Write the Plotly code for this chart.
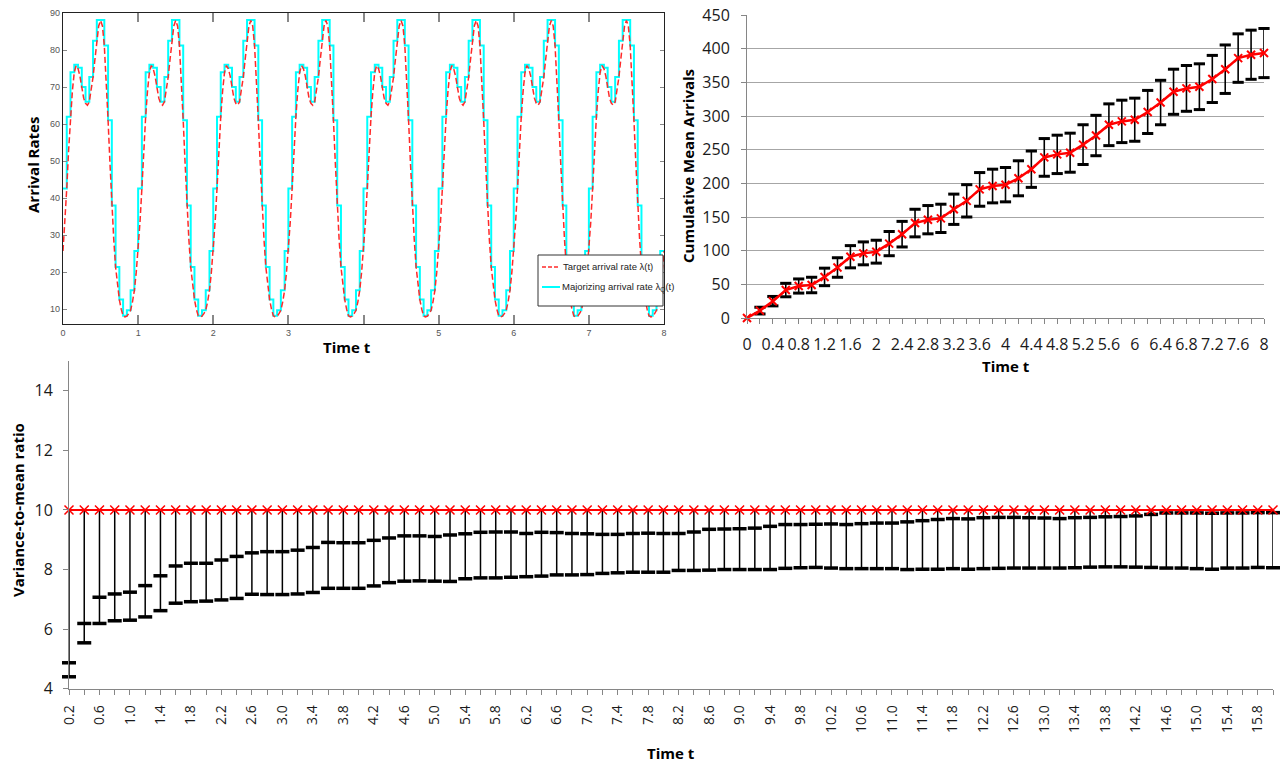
import plotly.graph_objects as go

W, H = 1280, 763


def fx(p):
    return p / W


def fy(p):
    return 1 - p / H


# ---------------- Top-left: arrival rates (one period, repeated each unit of time) ----------------
PERIOD_T = [0.000, 0.025, 0.050, 0.075, 0.100, 0.125, 0.150, 0.175, 0.200, 0.225,
            0.250, 0.275, 0.300, 0.325, 0.350, 0.375, 0.400, 0.425, 0.450, 0.475,
            0.500, 0.525, 0.550, 0.575, 0.600, 0.625, 0.650, 0.675, 0.700, 0.725,
            0.750, 0.775, 0.800, 0.825, 0.850, 0.875, 0.900, 0.925, 0.950, 0.975, 1.000]
TARGET_RATE = [25.7, 33.5, 42.6, 53.0, 62.0, 69.0, 74.0, 75.8, 75.0, 73.0,
               70.0, 67.0, 65.6, 65.1, 66.0, 69.0, 72.7, 77.5, 82.5, 86.5,
               88.0, 86.5, 81.2, 72.0, 61.0, 49.5, 38.0, 29.0, 21.4, 16.5,
               12.6, 10.0, 8.2, 7.9, 8.1, 8.8, 9.7, 12.0, 15.1, 20.0, 25.7]
STEP_T = [0.00, 0.05, 0.10, 0.15, 0.20, 0.25, 0.30, 0.35, 0.40, 0.45,
          0.50, 0.55, 0.60, 0.65, 0.70, 0.75, 0.80, 0.85, 0.90, 0.95]
STEP_RATE = [42.6, 62.0, 74.0, 76.0, 75.2, 70.0, 66.0, 72.7, 82.5, 88.1,
             88.1, 81.2, 61.0, 38.0, 21.4, 12.6, 8.2, 9.7, 15.1, 25.7]
PERIODS = [0, 1, 2, 3, 4, 5, 6, 7]
TL_XTICKS = [0, 1, 2, 3, 5, 6, 7, 8]          # labelled ticks (4 is unlabelled in the source)
TL_XTICKTEXT = ["0", "1", "2", "3", "5", "6", "7", "8"]
TL_XTICKS_UNLABELLED = [4]
TL_YTICKS = [10, 20, 30, 40, 50, 60, 70, 80, 90]

# ---------------- Top-right: cumulative mean arrivals ----------------
T_CUM = [0, 0.2, 0.4, 0.6, 0.8, 1.0, 1.2, 1.4, 1.6, 1.8, 2.0, 2.2, 2.4, 2.6, 2.8, 3.0,
         3.2, 3.4, 3.6, 3.8, 4.0, 4.2, 4.4, 4.6, 4.8, 5.0, 5.2, 5.4, 5.6, 5.8, 6.0,
         6.2, 6.4, 6.6, 6.8, 7.0, 7.2, 7.4, 7.6, 7.8, 8.0]
MEAN_CUM = [0, 11, 25, 41.5, 47.5, 49, 61, 75, 91, 96, 98.5, 110.5, 124.5, 141, 146, 148,
            161.5, 174, 191, 196, 198, 207.5, 221, 238.5, 243, 245.5, 257.5, 271, 287, 292, 294.5,
            306, 320, 336, 341, 343.5, 355, 369.5, 386, 391, 393.5]
ERR_CUM = [0, 5, 7, 10, 10.5, 11.5, 13, 14.5, 16.5, 17, 17, 18, 19, 20.5, 21, 21,
           22.5, 24, 25, 25, 25.5, 26, 27, 28, 28.5, 29, 29.5, 30, 31, 31.5, 32,
           32, 33, 33.5, 34, 34, 35, 36, 36, 36.5, 36.5]
TR_XTICKS = [0, 0.4, 0.8, 1.2, 1.6, 2.0, 2.4, 2.8, 3.2, 3.6, 4.0, 4.4, 4.8, 5.2, 5.6, 6.0,
             6.4, 6.8, 7.2, 7.6, 8.0]
TR_XTICKTEXT = ["0", "0.4", "0.8", "1.2", "1.6", "2", "2.4", "2.8", "3.2", "3.6", "4", "4.4",
                "4.8", "5.2", "5.6", "6", "6.4", "6.8", "7.2", "7.6", "8"]

# ---------------- Bottom: variance-to-mean ratio ----------------
T_VMR = [0.2, 0.4, 0.6, 0.8, 1.0, 1.2, 1.4, 1.6, 1.8, 2.0,
         2.2, 2.4, 2.6, 2.8, 3.0, 3.2, 3.4, 3.6, 3.8, 4.0,
         4.2, 4.4, 4.6, 4.8, 5.0, 5.2, 5.4, 5.6, 5.8, 6.0,
         6.2, 6.4, 6.6, 6.8, 7.0, 7.2, 7.4, 7.6, 7.8, 8.0,
         8.2, 8.4, 8.6, 8.8, 9.0, 9.2, 9.4, 9.6, 9.8, 10.0,
         10.2, 10.4, 10.6, 10.8, 11.0, 11.2, 11.4, 11.6, 11.8, 12.0,
         12.2, 12.4, 12.6, 12.8, 13.0, 13.2, 13.4, 13.6, 13.8, 14.0,
         14.2, 14.4, 14.6, 14.8, 15.0, 15.2, 15.4, 15.6, 15.8, 16.0]
VMR_TARGET = [10.0, 10.0, 10.0, 10.0, 10.0, 10.0, 10.0, 10.0, 10.0, 10.0,
              10.0, 10.0, 10.0, 10.0, 10.0, 10.0, 10.0, 10.0, 10.0, 10.0,
              10.0, 10.0, 10.0, 10.0, 10.0, 10.0, 10.0, 10.0, 10.0, 10.0,
              10.0, 10.0, 10.0, 10.0, 10.0, 10.0, 10.0, 10.0, 10.0, 10.0,
              10.0, 10.0, 10.0, 10.0, 10.0, 10.0, 10.0, 10.0, 10.0, 10.0,
              10.0, 10.0, 10.0, 10.0, 10.0, 10.0, 10.0, 10.0, 10.0, 10.0,
              10.0, 10.0, 10.0, 10.0, 10.0, 10.0, 10.0, 10.0, 10.0, 10.0,
              10.0, 10.0, 10.0, 10.0, 10.0, 10.0, 10.0, 10.0, 10.0, 10.0]
VMR_UPPER = [4.87, 6.19, 7.07, 7.18, 7.24, 7.46, 7.79, 8.12, 8.21, 8.21,
             8.32, 8.44, 8.56, 8.60, 8.60, 8.65, 8.74, 8.91, 8.90, 8.90,
             8.98, 9.06, 9.13, 9.13, 9.11, 9.16, 9.20, 9.25, 9.26, 9.26,
             9.21, 9.25, 9.24, 9.21, 9.20, 9.18, 9.18, 9.21, 9.22, 9.21,
             9.21, 9.26, 9.35, 9.36, 9.37, 9.39, 9.45, 9.51, 9.51, 9.52,
             9.53, 9.51, 9.54, 9.56, 9.56, 9.60, 9.64, 9.68, 9.71, 9.70,
             9.74, 9.75, 9.75, 9.74, 9.73, 9.71, 9.74, 9.75, 9.77, 9.78,
             9.80, 9.85, 9.90, 9.90, 9.90, 9.89, 9.90, 9.90, 9.91, 9.91]
VMR_LOWER = [4.40, 5.54, 6.19, 6.28, 6.30, 6.41, 6.62, 6.87, 6.92, 6.94,
             6.98, 7.03, 7.17, 7.16, 7.16, 7.18, 7.23, 7.37, 7.37, 7.37,
             7.45, 7.56, 7.61, 7.62, 7.61, 7.60, 7.69, 7.72, 7.72, 7.74,
             7.76, 7.78, 7.82, 7.82, 7.83, 7.87, 7.89, 7.91, 7.91, 7.91,
             7.97, 7.97, 7.98, 8.00, 8.00, 8.00, 8.00, 8.04, 8.06, 8.07,
             8.05, 8.03, 8.03, 8.03, 8.03, 8.00, 8.01, 8.01, 8.03, 8.01,
             8.03, 8.04, 8.05, 8.05, 8.05, 8.05, 8.06, 8.08, 8.09, 8.09,
             8.08, 8.07, 8.05, 8.05, 8.03, 8.01, 8.05, 8.05, 8.07, 8.06]
B_XTICKS = T_VMR[::2]
B_XTICKTEXT = ["%.1f" % v for v in B_XTICKS]
B_YTICKS = [4, 6, 8, 10, 12, 14]

# ---------------- build series ----------------
tgt_x, tgt_y, stp_x, stp_y = [], [], [], []
for k in PERIODS:
    tgt_x += [t + k for t in PERIOD_T[:-1]]
    tgt_y += TARGET_RATE[:-1]
    stp_x += [t + k for t in STEP_T]
    stp_y += STEP_RATE
tgt_x.append(PERIOD_T[-1] + PERIODS[-1])
tgt_y.append(TARGET_RATE[-1])
stp_x.append(PERIOD_T[-1] + PERIODS[-1])
stp_y.append(STEP_RATE[-1])

fig = go.Figure()

# top-left
fig.add_trace(go.Scatter(x=stp_x, y=stp_y, mode="lines", line_shape="hv",
                         line=dict(color="#00FFFF", width=2), xaxis="x", yaxis="y",
                         showlegend=False, hoverinfo="skip"))
fig.add_trace(go.Scatter(x=tgt_x, y=tgt_y, mode="lines",
                         line=dict(color="#FF2A2A", width=1.5, dash="6px,3px"), xaxis="x", yaxis="y",
                         showlegend=False, hoverinfo="skip"))

# top-right: error bars, caps, line
fig.add_trace(go.Scatter(x=T_CUM, y=MEAN_CUM, mode="markers",
                         marker=dict(size=1, color="rgba(0,0,0,0)"),
                         error_y=dict(type="data", array=ERR_CUM, symmetric=True,
                                      color="black", thickness=1.6, width=0),
                         xaxis="x2", yaxis="y2", showlegend=False, cliponaxis=False))
cap_x = [t for t, e in zip(T_CUM, ERR_CUM) if e > 0]
cap_hi = [m + e for m, e in zip(MEAN_CUM, ERR_CUM) if e > 0]
cap_lo = [m - e for m, e in zip(MEAN_CUM, ERR_CUM) if e > 0]
fig.add_trace(go.Scatter(x=cap_x + cap_x, y=cap_hi + cap_lo, mode="markers",
                         marker=dict(symbol="line-ew", size=8, line=dict(color="black", width=3)),
                         xaxis="x2", yaxis="y2", showlegend=False, cliponaxis=False))
fig.add_trace(go.Scatter(x=T_CUM, y=MEAN_CUM, mode="lines+markers",
                         line=dict(color="#FF0000", width=2.5),
                         marker=dict(symbol="x-thin", size=8,
                                     line=dict(color="#FF0000", width=2)),
                         xaxis="x2", yaxis="y2", showlegend=False, cliponaxis=False))

# bottom
fig.add_trace(go.Scatter(x=T_VMR, y=VMR_TARGET, mode="markers",
                         marker=dict(size=1, color="rgba(0,0,0,0)"),
                         error_y=dict(type="data", symmetric=False,
                                      array=[0 for _ in VMR_TARGET],
                                      arrayminus=[m - lo for m, lo in zip(VMR_TARGET, VMR_LOWER)],
                                      color="black", thickness=1.5, width=0),
                         xaxis="x3", yaxis="y3", showlegend=False, cliponaxis=False))
fig.add_trace(go.Scatter(x=T_VMR + T_VMR, y=VMR_UPPER + VMR_LOWER, mode="markers",
                         marker=dict(symbol="line-ew", size=10, line=dict(color="black", width=3.5)),
                         xaxis="x3", yaxis="y3", showlegend=False, cliponaxis=False))
fig.add_trace(go.Scatter(x=T_VMR, y=VMR_TARGET, mode="lines+markers",
                         line=dict(color="#FF0000", width=2),
                         marker=dict(symbol="x-thin", size=9, line=dict(color="#FF0000", width=1.5)),
                         xaxis="x3", yaxis="y3", showlegend=False, cliponaxis=False))

TICKFONT_XL = dict(family="Open Sans, Liberation Sans, sans-serif", size=16, color="#1a1a1a")
TITLEFONT = dict(family="Open Sans, Liberation Sans, sans-serif", size=15, color="black")
MATFONT = dict(family="Liberation Sans Narrow, Liberation Sans, sans-serif", size=9, color="#555555")

fig.update_layout(
    width=W, height=H, margin=dict(l=0, r=0, t=0, b=0),
    paper_bgcolor="white", plot_bgcolor="white", template="none",
    showlegend=False,
    xaxis=dict(domain=[fx(63), fx(664)], anchor="y", range=[0, 8],
               tickmode="array", tickvals=TL_XTICKS, ticktext=TL_XTICKTEXT,
               ticks="inside", ticklen=9, tickwidth=1.5, tickcolor="#888888",
               minor=dict(tickmode="array", tickvals=TL_XTICKS_UNLABELLED, ticks="inside",
                          ticklen=9, tickwidth=1.5, tickcolor="#888888", showgrid=False),
               showline=True, linecolor="#222222", linewidth=1.2, mirror="ticks",
               showgrid=False, zeroline=False, tickfont=MATFONT),
    yaxis=dict(domain=[fy(324), fy(13)], anchor="x", range=[6, 90],
               tickmode="array", tickvals=TL_YTICKS,
               ticks="inside", ticklen=4, tickwidth=1.2, tickcolor="#888888",
               showline=True, linecolor="#222222", linewidth=1.2, mirror="ticks",
               showgrid=False, zeroline=False, tickfont=MATFONT),
    xaxis2=dict(domain=[fx(747), fx(1264)], anchor="y2", range=[0, 8],
                tickmode="array", tickvals=TR_XTICKS, ticktext=TR_XTICKTEXT,
                ticks="outside", ticklen=5, tickcolor="#868686", ticklabelstandoff=7,
                minor=dict(tickmode="array", tickvals=T_CUM, ticks="outside", ticklen=5,
                           tickcolor="#868686", showgrid=False),
                showline=True, linecolor="#868686", linewidth=1,
                showgrid=False, zeroline=False, tickfont=TICKFONT_XL),
    yaxis2=dict(domain=[fy(318), fy(15)], anchor="x2", range=[0, 450],
                tickmode="linear", tick0=0, dtick=50,
                ticks="outside", ticklen=5, tickcolor="#868686", ticklabelstandoff=8,
                showline=True, linecolor="#868686", linewidth=1,
                showgrid=True, gridcolor="#A6A6A6", gridwidth=1,
                zeroline=False, tickfont=TICKFONT_XL),
    xaxis3=dict(domain=[fx(69), fx(1273)], anchor="y3", range=[0.2, 16.0],
                tickmode="array", tickvals=B_XTICKS, ticktext=B_XTICKTEXT, tickangle=-90,
                ticks="outside", ticklen=5, tickcolor="#868686", ticklabelstandoff=5,
                minor=dict(tickmode="array", tickvals=T_VMR, ticks="outside", ticklen=5,
                           tickcolor="#868686", showgrid=False),
                showline=True, linecolor="#868686", linewidth=1,
                showgrid=False, zeroline=False,
                tickfont=dict(family="Open Sans, Liberation Sans, sans-serif", size=14, color="#1a1a1a")),
    yaxis3=dict(domain=[fy(688.7), fy(361)], anchor="x3", range=[4, 15],
                tickmode="array", tickvals=B_YTICKS,
                ticks="outside", ticklen=5, tickcolor="#868686", ticklabelstandoff=7,
                showline=True, linecolor="#868686", linewidth=1,
                showgrid=False, zeroline=False, tickfont=TICKFONT_XL),
)


def ann(text, x, y, font, angle=0, xanchor="center"):
    return dict(text=text, x=fx(x), y=fy(y), xref="paper", yref="paper", showarrow=False,
                textangle=angle, font=font, xanchor=xanchor, yanchor="middle")


LEGFONT = dict(family="Liberation Sans Narrow, Liberation Sans, sans-serif", size=9.5, color="#222222")
annotations = [
    ann("<b>Arrival Rates</b>", 33, 165, TITLEFONT, angle=-90),
    ann("<b>Time t</b>", 347, 347, TITLEFONT),
    ann("<b>Cumulative Mean Arrivals</b>", 688, 166, TITLEFONT, angle=-90),
    ann("<b>Time t</b>", 1006, 366, TITLEFONT),
    ann("<b>Variance-to-mean ratio</b>", 18, 510, TITLEFONT, angle=-90),
    ann("<b>Time t</b>", 671, 753, TITLEFONT),
    ann("Target arrival rate λ(t)", 561, 267, LEGFONT, xanchor="left"),
    ann("Majorizing arrival rate λ<sub>Q</sub>(t)", 560, 287, LEGFONT, xanchor="left"),
]

shapes = [
    dict(type="rect", xref="paper", yref="paper", x0=fx(538), x1=fx(663), y0=fy(306), y1=fy(255),
         line=dict(color="#333333", width=1), fillcolor="white", layer="above"),
    dict(type="line", xref="paper", yref="paper", x0=fx(542), x1=fx(560), y0=fy(267), y1=fy(267),
         line=dict(color="#FF2A2A", width=1.5, dash="4px,2px"), layer="above"),
    dict(type="line", xref="paper", yref="paper", x0=fx(542), x1=fx(560), y0=fy(287), y1=fy(287),
         line=dict(color="#00FFFF", width=2), layer="above"),
]

fig.update_layout(annotations=annotations, shapes=shapes)

fig.write_html("out.html")
